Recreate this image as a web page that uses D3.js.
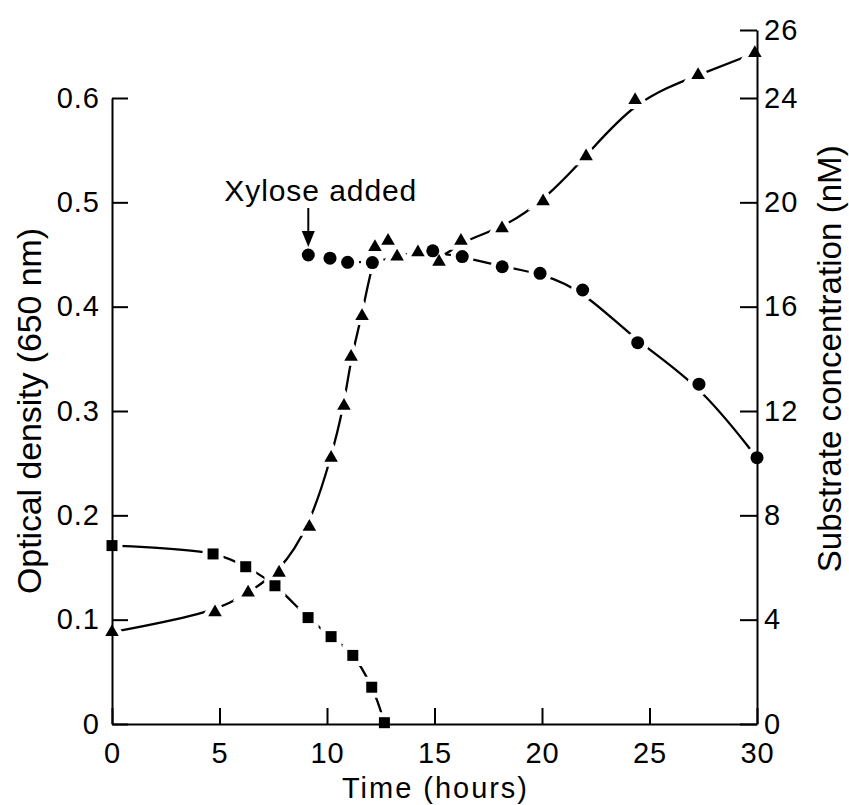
<!DOCTYPE html>
<html>
<head>
<meta charset="utf-8">
<script src="https://cdn.jsdelivr.net/npm/d3@7/dist/d3.min.js"></script>
<style>
body { margin: 0; background: #fff; }
text { font-family: "Liberation Sans", Arial, sans-serif; fill: #000; }
.axis text { font-size: 29px; letter-spacing: 1px; font-family: "Liberation Sans", Arial, sans-serif; }
.axis path, .axis line { stroke: #000; stroke-width: 2; }
</style>
</head>
<body>
<svg id="chart" width="849" height="805"></svg>
<script>
// optical density, triangles (left axis)
var odTime  = [0, 4.79, 6.33, 7.77, 9.18, 10.19, 10.79, 11.12, 11.63, 12.23, 12.84, 13.26, 14.23, 15.21, 16.23, 18.14, 20.05, 22.05, 24.33, 27.26, 29.9]
var odValue = [0.088, 0.107, 0.126, 0.145, 0.189, 0.255, 0.305, 0.352, 0.391, 0.457, 0.463, 0.448, 0.452, 0.443, 0.463, 0.475, 0.501, 0.544, 0.598, 0.622, 0.643]

// first substrate, squares (right axis)
var sqTime = [0, 4.7, 6.22, 7.58, 9.12, 10.19, 11.2, 12.08, 12.67]
var sqConc = [6.84, 6.52, 6.03, 5.30, 4.08, 3.35, 2.63, 1.41, 0.05]

// xylose, circles (right axis)
var xyTime = [9.13, 10.14, 10.96, 12.11, 14.92, 16.29, 18.15, 19.91, 21.89, 24.45, 27.3, 30]
var xyConc = [17.98, 17.86, 17.70, 17.69, 18.14, 17.92, 17.53, 17.28, 16.64, 14.62, 13.03, 10.21]

var timeTicks = [0, 5, 10, 15, 20, 25, 30]
var odTicks = [0, 0.1, 0.2, 0.3, 0.4, 0.5, 0.6]
var concTicks = [0, 4, 8, 12, 16, 20, 24, 26]

var xTitle = 'Time (hours)'
var yTitle = 'Optical density (650 nm)'
var y2Title = 'Substrate concentration (nM)'
var noteText = 'Xylose added'
var noteTime = 9.13, noteConc = 17.98

var svg = d3.select('#chart')

var x = d3.scaleLinear().domain([0, 30]).range([112, 757])
var y = d3.scaleLinear().domain([0, 0.6]).range([724, 98])
// right axis runs a bit further up past 24
var y2 = d3.scaleLinear().domain([0, 24, 26]).range([724, 98, 30])

var tri = d3.zip(odTime, odValue)
var sq = d3.zip(sqTime, sqConc)
var xy = d3.zip(xyTime, xyConc)

var lineOD = d3.line()
  .x(function(d) {return x(d[0])})
  .y(function(d) {return y(d[1])})
  .curve(d3.curveBasis)
var lineSq = d3.line()
  .x(function(d) {return x(d[0])})
  .y(function(d) {return y2(d[1])})
  .curve(d3.curveCatmullRom)
var lineXy = d3.line()
  .x(function(d) {return x(d[0])})
  .y(function(d) {return y2(d[1])})
  .curve(d3.curveBasis)

var curves = svg.append('g')
  .attr('fill', 'none')
  .attr('stroke', '#000')
  .attr('stroke-width', 2.3)
curves.append('path').attr('d', lineOD(tri))
curves.append('path').attr('d', lineSq(sq))
curves.append('path').attr('d', lineXy(xy))

var triSym = d3.symbol().type(d3.symbolTriangle).size(80)
var sqSym = d3.symbol().type(d3.symbolSquare).size(121)

// markers: white halo first so the lines break around them
function drawMarkers(g) {
  g.selectAll('.tri').data(tri).enter().append('path')
    .attr('transform', function(d) {return 'translate(' + x(d[0]) + ',' + y(d[1]) + ')'})
    .attr('d', triSym)
  g.selectAll('.sq').data(sq).enter().append('path')
    .attr('transform', function(d) {return 'translate(' + x(d[0]) + ',' + y2(d[1]) + ')'})
    .attr('d', sqSym)
  g.selectAll('.xy').data(xy).enter().append('circle')
    .attr('cx', function(d) {return x(d[0])})
    .attr('cy', function(d) {return y2(d[1])})
    .attr('r', 6.5)
}

drawMarkers(svg.append('g').attr('fill', '#fff').attr('stroke', '#fff').attr('stroke-width', 10))
drawMarkers(svg.append('g').attr('fill', '#000'))

// axes
svg.append('g')
  .attr('class', 'axis')
  .attr('transform', 'translate(' + x(0) + ',0)')
  .call(d3.axisLeft(y).tickValues(odTicks).tickSize(-16).tickSizeOuter(0).tickPadding(12)
    .tickFormat(function(d) {return d === 0 ? '0' : d3.format('.1f')(d)}))

svg.append('g')
  .attr('class', 'axis')
  .attr('transform', 'translate(' + x(30) + ',0)')
  .call(d3.axisRight(y2).tickValues(concTicks).tickSize(-17).tickSizeOuter(0).tickPadding(7))

svg.append('g')
  .attr('class', 'axis')
  .attr('transform', 'translate(0,' + y(0) + ')')
  .call(d3.axisBottom(x).tickValues(timeTicks).tickSize(-16).tickSizeOuter(0).tickPadding(18))

svg.selectAll('.axis').attr('font-family', null).attr('font-size', null)

// titles
svg.append('text')
  .attr('x', (x(0) + x(30)) / 2)
  .attr('y', 798)
  .attr('text-anchor', 'middle')
  .attr('font-size', 29)
  .attr('textLength', 185)
  .attr('lengthAdjust', 'spacing')
  .text(xTitle)

svg.append('text')
  .attr('transform', 'translate(41,' + y(0.3) + ') rotate(-90)')
  .attr('text-anchor', 'middle')
  .attr('font-size', 34)
  .attr('textLength', 366)
  .attr('lengthAdjust', 'spacing')
  .text(yTitle)

svg.append('text')
  .attr('transform', 'translate(841,' + y2(14) + ') rotate(-90)')
  .attr('text-anchor', 'middle')
  .attr('font-size', 33)
  .attr('textLength', 427)
  .attr('lengthAdjust', 'spacing')
  .text(y2Title)

// xylose annotation
var ax = x(noteTime), tip = y2(noteConc) - 8
svg.append('line')
  .attr('x1', ax).attr('x2', ax)
  .attr('y1', tip - 39).attr('y2', tip - 14)
  .attr('stroke', '#000')
  .attr('stroke-width', 2)
svg.append('path')
  .attr('d', 'M' + (ax - 6.5) + ',' + (tip - 16) + 'L' + (ax + 6.5) + ',' + (tip - 16) + 'L' + ax + ',' + tip + 'Z')
  .attr('fill', '#000')
svg.append('text')
  .attr('x', ax + 12)
  .attr('y', tip - 46)
  .attr('text-anchor', 'middle')
  .attr('font-size', 30)
  .attr('textLength', 192)
  .attr('lengthAdjust', 'spacing')
  .text(noteText)
</script>
</body>
</html>
